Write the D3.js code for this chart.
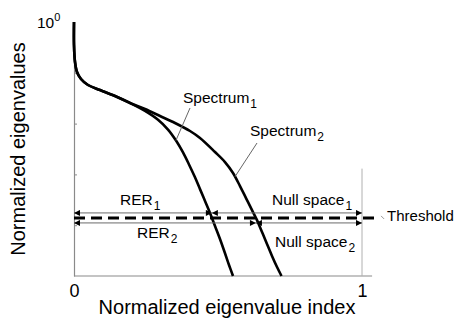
<!DOCTYPE html>
<html>
<head>
<meta charset="utf-8">
<script src="https://cdn.jsdelivr.net/npm/d3@7"></script>
<style>
  body { margin: 0; background: #fff; }
  svg { display: block; }
  text { font-family: "Liberation Sans", Arial, Helvetica, sans-serif; fill: #000; }
</style>
</head>
<body>
<svg id="chart" width="456" height="321"></svg>
<script>
// Eigenvalue spectra (normalized index vs normalized eigenvalue, log scale)
const spectrum1Index = [0, 0, 0.0035, 0.0104, 0.0243, 0.0486, 0.0903, 0.1424, 0.1944, 0.2465, 0.2917, 0.3264, 0.3542, 0.3785, 0.3993, 0.4201, 0.4375, 0.4549, 0.4722, 0.4896, 0.5069, 0.5243, 0.5382, 0.5521];
const spectrum1Value = [1, 0.352, 0.163, 0.104, 0.0755, 0.0575, 0.0459, 0.0349, 0.0255, 0.0178, 0.0119, 0.00764, 0.00465, 0.00271, 0.00157, 8.76e-4, 5.13e-4, 2.99e-4, 1.74e-4, 9.65e-5, 5.35e-5, 2.8e-5, 1.65e-5, 1e-5];
const spectrum2Index = [0, 0, 0.0035, 0.0104, 0.0243, 0.0486, 0.0903, 0.1424, 0.1944, 0.2465, 0.2986, 0.3507, 0.4028, 0.4375, 0.4896, 0.5243, 0.5521, 0.5764, 0.5972, 0.6181, 0.6354, 0.6528, 0.6701, 0.6875, 0.7049, 0.7205];
const spectrum2Value = [1, 0.352, 0.163, 0.104, 0.0755, 0.0575, 0.0459, 0.0349, 0.0255, 0.01936, 0.01412, 0.01028, 0.00715, 0.00521, 0.00276, 0.00175, 0.001066, 5.9e-4, 3.42e-4, 1.98e-4, 1.26e-4, 7.34e-5, 4.27e-5, 2.48e-5, 1.5e-5, 1e-5];

const threshold = 1.39e-4;
const yDomain = [1e-5, 1];
const yMinorTicks = [1e-4, 1e-3, 1e-2, 1e-1];
const xTicks = [0, 1];
const xTickLabels = ["0", "1"];
const xAxisEnd = 1.035;
const indexOneMarkerTop = 1.3e-3;

// Layout
const W = 456, H = 321;
const plot = { left: 74, right: 362, top: 22, bottom: 276 };
const FONT = '"Liberation Sans", Arial, Helvetica, sans-serif';

const svg = d3.select("#chart");
svg.append("rect").attr("width", W).attr("height", H).attr("fill", "#fff");

const x = d3.scaleLinear().domain([0, 1]).range([plot.left, plot.right]);
const y = d3.scaleLog().domain(yDomain).range([plot.bottom, plot.top]);

// Arrowhead marker
const defs = svg.append("defs");
defs.append("marker")
  .attr("id", "arrow")
  .attr("viewBox", "0 0 10 10")
  .attr("refX", 10).attr("refY", 5)
  .attr("markerUnits", "userSpaceOnUse")
  .attr("markerWidth", 7).attr("markerHeight", 6)
  .attr("orient", "auto-start-reverse")
  .append("path").attr("d", "M0,0 L10,5 L0,10 Z").attr("fill", "#000");

// Axes
const yAxis = d3.axisLeft(y).tickValues(yMinorTicks).tickSizeInner(-3).tickSizeOuter(0).tickFormat(() => "");
const gy = svg.append("g").attr("transform", `translate(${plot.left},0)`).call(yAxis);
gy.select(".domain").attr("stroke", "#8a8a8a").attr("stroke-width", 1.2);
gy.selectAll(".tick line").attr("stroke", "#8a8a8a");

svg.append("line")
  .attr("x1", x(0)).attr("x2", x(xAxisEnd))
  .attr("y1", y(yDomain[0])).attr("y2", y(yDomain[0]))
  .attr("stroke", "#8a8a8a").attr("stroke-width", 1.2);

const xAxis = d3.axisBottom(x).tickValues(xTicks).tickSize(0).tickPadding(0)
  .tickFormat((d, i) => xTickLabels[i]);
const gx = svg.append("g").attr("transform", `translate(0,${plot.bottom})`).call(xAxis);
gx.select(".domain").remove();
gx.selectAll("text").attr("font-size", 18).attr("font-family", FONT).attr("dy", null).attr("y", 21);

// Marker at index 1
svg.append("line")
  .attr("x1", x(1)).attr("x2", x(1))
  .attr("y1", y(indexOneMarkerTop)).attr("y2", y(yDomain[0]))
  .attr("stroke", "#b0b0b0").attr("stroke-width", 1);

// 10^0 label
const topLabel = svg.append("text").attr("x", plot.left - 37).attr("y", y(1) + 6).attr("font-size", 15.5);
topLabel.append("tspan").text("10");
topLabel.append("tspan").attr("font-size", 11).attr("dy", -7).text("0");

// Axis titles
svg.append("text")
  .attr("transform", `translate(25,${(plot.top + plot.bottom) / 2}) rotate(-90)`)
  .attr("text-anchor", "middle").attr("font-size", 20)
  .text("Normalized eigenvalues");
svg.append("text")
  .attr("x", 227).attr("y", 314)
  .attr("text-anchor", "middle").attr("font-size", 20)
  .text("Normalized eigenvalue index");

// Spectra
const spectra = [
  { idx: spectrum1Index, val: spectrum1Value },
  { idx: spectrum2Index, val: spectrum2Value }
];
const line = d3.line()
  .x(d => x(d[0])).y(d => y(d[1]))
  .curve(d3.curveCatmullRom.alpha(0.5));
spectra.forEach(s => {
  svg.append("path")
    .attr("d", line(s.idx.map((v, i) => [v, s.val[i]])))
    .attr("fill", "none").attr("stroke", "#000").attr("stroke-width", 2.6)
    .attr("stroke-linejoin", "round");
});

// Index where a spectrum crosses a given value (interpolated in log space)
function crossing(s, level) {
  for (let i = 1; i < s.idx.length; i++) {
    const a = s.val[i - 1], b = s.val[i];
    if (a >= level && b <= level) {
      const t = (Math.log10(a) - Math.log10(level)) / (Math.log10(a) - Math.log10(b));
      return s.idx[i - 1] + t * (s.idx[i] - s.idx[i - 1]);
    }
  }
  return 1;
}
// Value of a spectrum at a given index (interpolated in log space)
function valueAt(s, xi) {
  for (let i = 1; i < s.idx.length; i++) {
    if (s.idx[i] >= xi && s.idx[i - 1] <= xi && s.idx[i] > s.idx[i - 1]) {
      const t = (xi - s.idx[i - 1]) / (s.idx[i] - s.idx[i - 1]);
      return Math.pow(10, Math.log10(s.val[i - 1]) + t * (Math.log10(s.val[i]) - Math.log10(s.val[i - 1])));
    }
  }
  return s.val[s.val.length - 1];
}

const rer1 = crossing(spectra[0], threshold);
const rer2 = crossing(spectra[1], threshold);
const yThr = y(threshold);

// Range arrows
function arrow(x0, x1, yy) {
  svg.append("line")
    .attr("x1", x(x0)).attr("x2", x(x1)).attr("y1", yy).attr("y2", yy)
    .attr("stroke", "#6a6a6a").attr("stroke-width", 1)
    .attr("marker-start", "url(#arrow)").attr("marker-end", "url(#arrow)");
}
arrow(0, rer1, yThr - 5);
arrow(rer1, 1, yThr - 5);
arrow(0, rer2, yThr + 5);
arrow(rer2, 1, yThr + 5);

// Threshold
svg.append("line")
  .attr("x1", x(0)).attr("x2", x(xAxisEnd + 0.01))
  .attr("y1", yThr).attr("y2", yThr)
  .attr("stroke", "#000").attr("stroke-width", 3)
  .attr("stroke-dasharray", "11,6");
svg.append("line")
  .attr("x1", x(xAxisEnd) + 9).attr("x2", x(xAxisEnd) + 12)
  .attr("y1", yThr - 2).attr("y2", yThr + 1)
  .attr("stroke", "#999").attr("stroke-width", 1);
svg.append("text")
  .attr("x", x(xAxisEnd) + 15).attr("y", yThr + 3)
  .attr("font-size", 15).text("Threshold");

// Labels with subscripts
function subLabel(px, py, main, sub) {
  const t = svg.append("text").attr("x", px).attr("y", py).attr("font-size", 15.5);
  t.append("tspan").text(main);
  t.append("tspan").attr("font-size", 12).attr("dx", 1).attr("dy", 5).text(sub);
  return t;
}
subLabel(120, yThr - 13, "RER", "1");
subLabel(137, yThr + 20, "RER", "2");
subLabel(272, yThr - 13, "Null space", "1");
subLabel(275, yThr + 29, "Null space", "2");

subLabel(183, 103, "Spectrum", "1");
subLabel(250, 136, "Spectrum", "2");

// Leader lines from spectrum labels to curves
const lead1 = 0.354, lead2 = 0.559;
svg.append("line")
  .attr("x1", 190).attr("y1", 108)
  .attr("x2", x(lead1)).attr("y2", y(valueAt(spectra[0], lead1)))
  .attr("stroke", "#666").attr("stroke-width", 1);
svg.append("line")
  .attr("x1", 257).attr("y1", 143)
  .attr("x2", x(lead2)).attr("y2", y(valueAt(spectra[1], lead2)))
  .attr("stroke", "#666").attr("stroke-width", 1);
</script>
</body>
</html>
